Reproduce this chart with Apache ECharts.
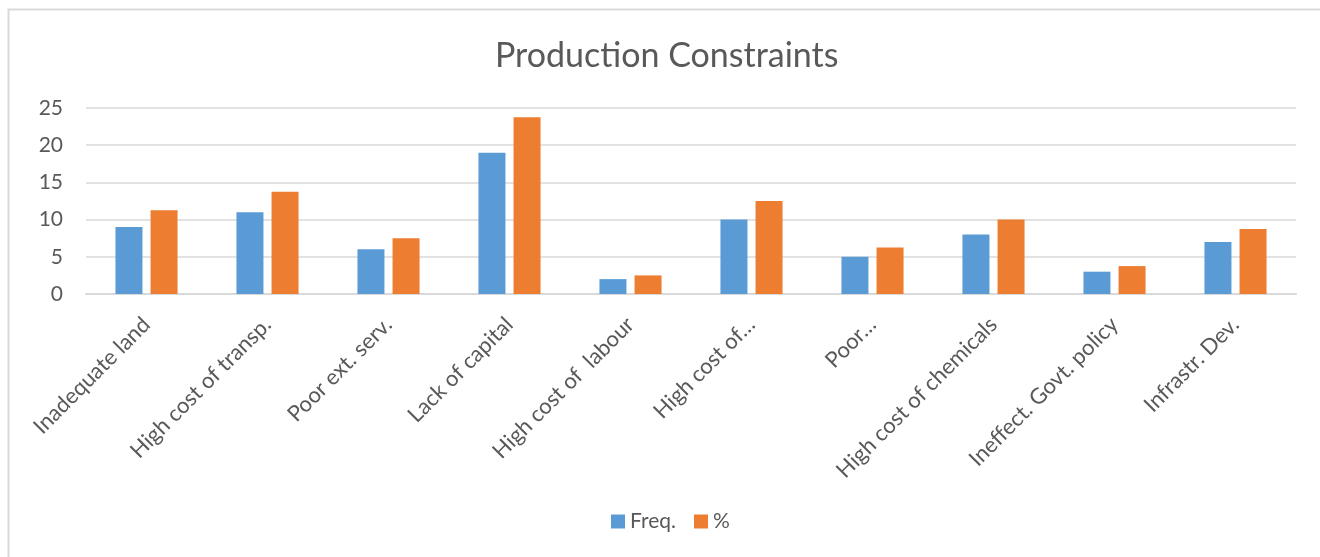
<!DOCTYPE html>
<html>
<head>
<meta charset="utf-8">
<script src="https://cdn.jsdelivr.net/npm/echarts@6/dist/echarts.min.js"></script>
<style>
  html, body { margin: 0; padding: 0; background: #fff; }
  #chart { width: 1320px; height: 557px; }
</style>
</head>
<body>
<div id="chart"></div>
<script>
// Survey results: production constraints reported by respondents
const categories = [
  'Inadequate land', 'High cost of transp.', 'Poor ext. serv.', 'Lack of capital',
  'High cost of  labour', 'High cost of\u2026', 'Poor\u2026', 'High cost of chemicals',
  'Ineffect. Govt. policy', 'Infrastr. Dev.'
];
const freq = [9, 11, 6, 19, 2, 10, 5, 8, 3, 7];
const percent = [11.25, 13.75, 7.5, 23.75, 2.5, 12.5, 6.25, 10, 3.75, 8.75];
const yTicks = { min: 0, max: 25, interval: 5 };

const FONT = 'Lato, "Liberation Sans", sans-serif';
const TEXT = '#595959';
const GRID = '#d9d9d9';

const chart = echarts.init(document.getElementById('chart'));
chart.setOption({
  backgroundColor: '#fff',
  animation: false,
  title: {
    text: 'Production Constraints',
    left: 490,
    top: 34,
    textStyle: { fontFamily: FONT, fontSize: 34, fontWeight: 'normal', color: TEXT }
  },
  legend: {
    bottom: 20,
    left: 606,
    itemWidth: 14,
    itemHeight: 14,
    itemGap: 18,
    icon: 'rect',
    textStyle: { fontFamily: FONT, fontSize: 21, color: TEXT },
    data: ['Freq.', '%']
  },
  grid: { left: 86, right: 24, top: 108, bottom: 263 },
  xAxis: {
    type: 'category',
    data: categories,
    axisLine: { lineStyle: { color: GRID, width: 2 } },
    axisTick: { show: false },
    axisLabel: {
      rotate: 45,
      interval: 0,
      margin: 27,
      fontFamily: FONT,
      fontSize: 22,
      color: TEXT
    }
  },
  yAxis: {
    type: 'value',
    min: yTicks.min,
    max: yTicks.max,
    interval: yTicks.interval,
    axisLine: { show: false },
    axisTick: { show: false },
    axisLabel: { margin: 23, fontFamily: FONT, fontSize: 21, color: TEXT },
    splitLine: { lineStyle: { color: GRID, width: 1.5 } }
  },
  series: [
    {
      name: 'Freq.',
      type: 'bar',
      data: freq,
      barWidth: 27,
      barGap: '30%',
      itemStyle: { color: '#5b9bd5' }
    },
    {
      name: '%',
      type: 'bar',
      data: percent,
      barWidth: 27,
      itemStyle: { color: '#ed7d31' }
    }
  ],
  graphic: [
    {
      type: 'polyline',
      shape: { points: [[8.5, 557], [8.5, 9.5], [1320, 9.5]] },
      style: { stroke: GRID, lineWidth: 2, fill: null },
      silent: true
    }
  ]
});
</script>
</body>
</html>
